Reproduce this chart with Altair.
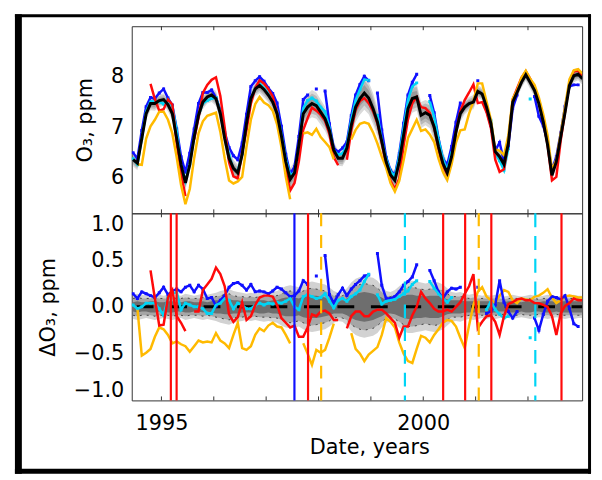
import altair as alt
import pandas as pd

# ---------------- data ----------------
N = 104
# monthly time axis, decimal years, starting mid-June 1994
dates = [round(1994 + (5 + i + 0.5) / 12, 4) for i in range(N)]

black = [6.36, 6.29, 6.78, 7.27, 7.47, 7.47, 7.53, 7.55, 7.45, 7.27,
         6.78, 6.26, 5.90, 6.26, 6.81, 7.24, 7.50, 7.60, 7.64, 7.57,
         7.27, 6.78, 6.39, 6.19, 6.10, 6.46, 7.08, 7.57, 7.76, 7.83,
         7.75, 7.64, 7.50, 7.27, 6.83, 6.32, 5.97, 6.10, 6.65, 7.27,
         7.40, 7.47, 7.43, 7.30, 7.17, 6.94, 6.55, 6.39, 6.39, 6.59,
         7.04, 7.40, 7.57, 7.68, 7.58, 7.37, 7.11, 6.72, 6.32, 6.06,
         5.95, 6.32, 6.85, 7.37, 7.57, 7.60, 7.24, 7.29, 7.24, 7.01,
         6.62, 6.29, 6.10, 6.42, 6.91, 7.27, 7.40, 7.47, 7.50, 7.71,
         7.66, 7.40, 7.08, 6.52, 6.42, 6.27, 6.68, 7.50, 7.69, 7.89,
         8.04, 7.89, 7.73, 7.47, 7.11, 6.65, 6.05, 6.32, 6.81, 7.30,
         7.83, 8.02, 8.05, 7.96]

d_blue = [0.14, 0.09, 0.16, 0.14, 0.12, 0.10, 0.15, 0.21, 0.13, 0.17,
          0.19, 0.16, 0.21, 0.23, 0.16, 0.23, 0.19, 0.09, 0.10, 0.01,
          0.07, 0.12, 0.21, 0.25, 0.26, 0.23, 0.18, 0.24, 0.16, 0.17,
          0.16, 0.14, 0.17, 0.21, 0.19, 0.15, 0.11, 0.12, 0.17, 0.28,
          0.24, None, 0.33, None, 0.55, 0.13, 0.04, 0.13, 0.20, 0.12,
          0.19, 0.24, 0.28, 0.33, 0.34, None, 0.57, 0.23, 0.09, 0.09,
          0.11, 0.16, 0.23, 0.27, 0.32, 0.45, None, None, 0.39, 0.28,
          0.16, 0.09, 0.16, 0.20, 0.19, 0.21, None, None, None, 0.21,
          None, -0.07, -0.05, 0.02, 0.28, 0.05, -0.05, -0.12, -0.05, None,
          None, None, -0.12, -0.25, -0.08, 0.06, 0.11, 0.10, 0.08, 0.12,
          -0.02, -0.18, -0.21, None]

d_cyan = [0.02, -0.02, 0.00, 0.04, 0.04, 0.04, -0.02, -0.09, 0.10, 0.14,
          0.16, -0.03, 0.04, 0.02, 0.00, 0.00, -0.02, -0.07, -0.07, 0.02,
          0.04, 0.09, 0.07, -0.02, 0.04, 0.02, -0.02, -0.02, 0.02, 0.04,
          0.02, 0.04, 0.03, 0.05, 0.04, 0.06, 0.09, 0.00, -0.03, 0.11,
          0.13, 0.11, 0.09, 0.10, 0.14, 0.06, -0.01, 0.07, 0.09, 0.06,
          0.11, 0.14, 0.18, 0.27, 0.35, None, 0.13, 0.03, 0.06, 0.07,
          0.08, 0.11, 0.14, 0.17, 0.24, 0.28, None, None, 0.27, 0.20,
          0.14, 0.09, 0.05, 0.10, None, None, None, None, None, None,
          None, -0.03, 0.06, -0.03, -0.08, -0.12, -0.10, None, None, None,
          None, -0.33, None, None, None, None, None, None, None, None,
          None, None, None, None]

d_red = [None, None, None, None, 0.39, 0.09, -0.20, -0.19, 0.10, 0.18,
         -0.10, -0.17, -0.26, None, -0.05, -0.05, 0.18, 0.24, 0.30, 0.42,
         0.35, 0.22, -0.08, -0.16, -0.11, 0.05, -0.14, -0.10, 0.02, 0.10,
         0.12, 0.12, 0.11, 0.02, -0.12, -0.17, -0.22, -0.20, -0.32, -0.32,
         -0.22, -0.08, -0.10, -0.05, -0.04, -0.07, -0.14, -0.14, None, -0.23,
         -0.10, -0.05, -0.05, -0.10, -0.10, -0.05, -0.03, -0.03, -0.07, -0.12,
         -0.17, -0.33, -0.21, -0.21, -0.09, 0.00, 0.16, 0.09, 0.04, -0.02,
         -0.05, -0.05, -0.03, -0.05, 0.00, 0.05, 0.14, 0.22, 0.35, -0.23,
         -0.16, -0.10, -0.09, -0.16, -0.30, -0.10, 0.03, 0.05, 0.08, 0.09,
         0.07, 0.07, 0.04, 0.04, 0.02, 0.00, -0.10, -0.30, -0.07, 0.01,
         0.04, 0.09, 0.07, 0.07]

d_orange = [None, -0.02, -0.52, -0.49, -0.45, -0.32, -0.22, -0.24, -0.30, -0.39,
            -0.37, -0.40, -0.42, -0.48, -0.42, -0.36, -0.38, -0.37, -0.38, -0.28,
            -0.36, -0.39, -0.44, -0.30, -0.17, -0.44, -0.46, -0.42, -0.30, -0.23,
            -0.26, -0.20, -0.17, -0.21, -0.22, -0.30, -0.39, None, None, -0.39,
            -0.50, -0.62, -0.46, -0.49, -0.46, -0.33, -0.18, None, None, None,
            -0.28, -0.45, -0.50, -0.58, -0.51, -0.47, -0.43, -0.30, -0.12, -0.16,
            -0.22, -0.38, -0.50, -0.58, -0.60, -0.45, -0.31, -0.33, -0.38, -0.30,
            -0.24, -0.17, -0.14, -0.15, -0.21, -0.33, -0.44, -0.20, 0.02, 0.16,
            0.21, 0.11, 0.07, 0.04, 0.12, 0.18, 0.16, 0.07, 0.04, 0.09,
            0.08, 0.07, 0.11, 0.12, 0.15, 0.19, 0.10, 0.04, 0.07, 0.11,
            0.12, 0.11, 0.10, 0.10]

band_outer = [0.13, 0.14, 0.13, 0.12, 0.13, 0.14, 0.13, 0.12, 0.13, 0.14,
              0.13, 0.12, 0.14, 0.13, 0.12, 0.13, 0.14, 0.13, 0.14, 0.15,
              0.17, 0.18, 0.19, 0.17, 0.16, 0.15, 0.14, 0.15, 0.14, 0.15,
              0.16, 0.15, 0.16, 0.17, 0.20, 0.22, 0.23, 0.22, 0.21, 0.24,
              0.26, 0.27, 0.26, 0.25, 0.24, 0.21, 0.17, 0.15, 0.16, 0.20,
              0.26, 0.30, 0.32, 0.33, 0.32, 0.31, 0.28, 0.22, 0.17, 0.16,
              0.18, 0.22, 0.26, 0.28, 0.28, 0.27, 0.26, 0.25, 0.26, 0.27,
              0.26, 0.24, 0.20, 0.16, 0.15, 0.16, 0.14, 0.13, 0.14, 0.13,
              0.12, 0.13, 0.12, 0.13, 0.12, 0.11, 0.12, 0.13, 0.12, 0.11,
              0.12, 0.13, 0.12, 0.11, 0.12, 0.13, 0.12, 0.11, 0.12, 0.13,
              0.12, 0.13, 0.12, 0.12]
band_mid = [0.09, 0.10, 0.09, 0.09, 0.09, 0.10, 0.09, 0.09, 0.09, 0.10,
            0.09, 0.09, 0.10, 0.09, 0.09, 0.09, 0.10, 0.09, 0.10, 0.11,
            0.12, 0.13, 0.14, 0.12, 0.11, 0.11, 0.10, 0.11, 0.10, 0.11,
            0.11, 0.11, 0.12, 0.12, 0.14, 0.16, 0.17, 0.16, 0.15, 0.17,
            0.19, 0.20, 0.19, 0.18, 0.17, 0.15, 0.12, 0.11, 0.12, 0.14,
            0.19, 0.22, 0.24, 0.25, 0.24, 0.23, 0.20, 0.16, 0.12, 0.11,
            0.13, 0.16, 0.19, 0.21, 0.21, 0.20, 0.19, 0.18, 0.19, 0.20,
            0.19, 0.17, 0.14, 0.11, 0.11, 0.11, 0.10, 0.09, 0.10, 0.09,
            0.09, 0.09, 0.09, 0.09, 0.09, 0.08, 0.09, 0.09, 0.09, 0.08,
            0.09, 0.09, 0.09, 0.08, 0.09, 0.09, 0.09, 0.08, 0.09, 0.09,
            0.09, 0.09, 0.09, 0.09]
band_inner = [0.05, 0.06, 0.05, 0.05, 0.06, 0.06, 0.05, 0.05, 0.06, 0.06,
              0.05, 0.05, 0.06, 0.06, 0.05, 0.05, 0.06, 0.05, 0.06, 0.07,
              0.07, 0.08, 0.08, 0.07, 0.07, 0.06, 0.06, 0.06, 0.06, 0.07,
              0.07, 0.06, 0.07, 0.07, 0.09, 0.10, 0.10, 0.10, 0.09, 0.11,
              0.12, 0.12, 0.12, 0.11, 0.10, 0.09, 0.07, 0.07, 0.07, 0.09,
              0.12, 0.14, 0.15, 0.16, 0.15, 0.14, 0.12, 0.10, 0.07, 0.07,
              0.08, 0.10, 0.12, 0.13, 0.13, 0.12, 0.12, 0.11, 0.12, 0.12,
              0.12, 0.10, 0.08, 0.07, 0.07, 0.07, 0.06, 0.06, 0.06, 0.06,
              0.06, 0.06, 0.06, 0.06, 0.05, 0.05, 0.06, 0.06, 0.06, 0.05,
              0.06, 0.06, 0.05, 0.05, 0.06, 0.06, 0.06, 0.05, 0.06, 0.06,
              0.06, 0.06, 0.06, 0.06]

red_events = [1995.18, 1995.29, 1997.80, 2000.38, 2000.80, 2001.30, 2002.64]
blue_events = [1997.54]
orange_events = [1998.05, 2001.06]
cyan_events = [1999.65, 2002.14]
year_ticks = [1995, 1996, 1997, 1998, 1999, 2000, 2001, 2002]

# ---------------- styling ----------------
C_BLUE, C_CYAN, C_RED, C_ORANGE = "#1010ff", "#00d4f5", "#ff0a0a", "#ffba00"
FONT = "DejaVu Sans"
W, H = 455, 189
X_DOM = [1994.433, 2003.034]

xs = alt.Scale(domain=X_DOM, nice=False, zero=False)
ys_top = alt.Scale(domain=[5.3, 9.0], nice=False, zero=False)
ys_bot = alt.Scale(domain=[-1.0, 1.0], nice=False, zero=False)

xax_bot = alt.Axis(values=[1995, 2000], format="d", title="Date, years", ticks=False,
                   domain=False, grid=False, labelPadding=12, titlePadding=4,
                   titleX=240, titleAlign="center", labelFlush=False)
yax_top = alt.Axis(values=[6, 7, 8], format="d", title="O₃, ppm", ticks=False,
                   domain=False, grid=False, labelPadding=8, titlePadding=15)
yax_bot = alt.Axis(values=[-1.0, -0.5, 0.0, 0.5, 1.0], format=".1f", title="ΔO₃, ppm",
                   ticks=False, domain=False, grid=False, labelPadding=8,
                   titlePadding=15, labelFlush=True)

# ---------------- tables ----------------
bands = pd.DataFrame({"t": dates, "b": black, "o": band_outer, "m": band_mid, "n": band_inner})
for k in ["o", "m", "n"]:
    bands["tlo_" + k] = bands["b"] - bands[k]
    bands["thi_" + k] = bands["b"] + bands[k]
    bands["blo_" + k] = -bands[k]
    bands["bhi_" + k] = bands[k]


def series_df(delta):
    v = [None if d is None else round(b + d, 3) for b, d in zip(black, delta)]
    return pd.DataFrame({"t": dates, "v": v, "d": delta}).astype({"v": float, "d": float})


s_blue, s_cyan, s_red, s_orange = (series_df(d) for d in (d_blue, d_cyan, d_red, d_orange))
s_black = pd.DataFrame({"t": dates, "v": black})
zero_df = pd.DataFrame({"t": X_DOM, "d": [0.0, 0.0]})
ticks_df = pd.DataFrame({"t": year_ticks})
dummy = pd.DataFrame({"k": [0]})


def ev(lst):
    return pd.DataFrame({"t": lst})


# ---------------- top panel ----------------
def xt():
    return alt.X("t:Q", scale=xs, axis=None)


def yt(f):
    return alt.Y(f + ":Q", scale=ys_top, axis=yax_top)


top_layers = []
for k, col in [("o", "#dadada"), ("m", "#b8b8b8"), ("n", "#9a9a9a")]:
    top_layers.append(alt.Chart(bands).mark_area(color=col, opacity=1, clip=True).encode(
        x=xt(), y=yt("tlo_" + k), y2=alt.Y2("thi_" + k)))
for df, col in [(s_blue, C_BLUE), (s_cyan, C_CYAN)]:
    top_layers.append(alt.Chart(df).mark_square(color=col, size=9, opacity=1, clip=True).encode(
        x=xt(), y=yt("v")))
for df, col in [(s_blue, C_BLUE), (s_cyan, C_CYAN), (s_red, C_RED), (s_orange, C_ORANGE)]:
    top_layers.append(alt.Chart(df).mark_line(color=col, strokeWidth=2.5, clip=True).encode(
        x=xt(), y=yt("v")))
top_layers.append(alt.Chart(s_black).mark_line(color="black", strokeWidth=3, clip=True).encode(
    x=xt(), y=yt("v")))
for y0, y1 in [(0, 4), (H - 4, H)]:
    top_layers.append(alt.Chart(ticks_df).mark_rule(color="#333", strokeWidth=1).encode(
        x=xt(), y=alt.value(y0), y2=alt.value(y1)))
# outer black frame of the figure (kept inside the 586x464 visible page area)
top_layers += [
    alt.Chart(dummy).mark_rule(color="black", strokeWidth=3).encode(
        x=alt.value(-118), x2=alt.value(464), y=alt.value(-10.5)),
    alt.Chart(dummy).mark_rule(color="black", strokeWidth=7).encode(
        x=alt.value(-114.5), y=alt.value(-12), y2=alt.value(452)),
    alt.Chart(dummy).mark_rule(color="black", strokeWidth=3).encode(
        x=alt.value(462.5), y=alt.value(-12), y2=alt.value(452)),
    alt.Chart(dummy).mark_rule(color="black", strokeWidth=5).encode(
        x=alt.value(-118), x2=alt.value(464), y=alt.value(449.5)),
]
top = alt.layer(*top_layers).properties(width=W, height=H)


# ---------------- bottom panel ----------------
def xb():
    return alt.X("t:Q", scale=xs, axis=xax_bot)


def yb(f):
    return alt.Y(f + ":Q", scale=ys_bot, axis=yax_bot)


bot_layers = []
for k, col in [("o", "#d2d2d2"), ("m", "#a6a6a6"), ("n", "#6e6e6e")]:
    bot_layers.append(alt.Chart(bands).mark_area(color=col, opacity=1, clip=True).encode(
        x=xb(), y=yb("blo_" + k), y2=alt.Y2("bhi_" + k)))
for f in ["blo_m", "bhi_m"]:
    bot_layers.append(alt.Chart(bands).mark_line(color="#222", strokeWidth=0.8,
                                                 strokeDash=[2, 5], clip=True).encode(
        x=xb(), y=yb(f)))
bot_layers.append(alt.Chart(zero_df).mark_line(color="black", strokeWidth=3,
                                               strokeDash=[17, 16.8], strokeDashOffset=-5).encode(
    x=xb(), y=yb("d")))
for df, col in [(s_blue, C_BLUE), (s_cyan, C_CYAN)]:
    bot_layers.append(alt.Chart(df).mark_square(color=col, size=9, opacity=1, clip=True).encode(
        x=xb(), y=yb("d")))
for df, col in [(s_orange, C_ORANGE), (s_blue, C_BLUE), (s_cyan, C_CYAN), (s_red, C_RED)]:
    bot_layers.append(alt.Chart(df).mark_line(color=col, strokeWidth=2.5, clip=True).encode(
        x=xb(), y=yb("d")))
for lst, col, dash in [(red_events, C_RED, None), (blue_events, C_BLUE, None),
                       (orange_events, C_ORANGE, [13, 9]), (cyan_events, C_CYAN, [14, 9])]:
    kw = dict(color=col, strokeWidth=2.2)
    if dash:
        kw["strokeDash"] = dash
    bot_layers.append(alt.Chart(ev(lst)).mark_rule(**kw).encode(
        x=xb(), y=alt.value(0), y2=alt.value(H)))
for y0, y1 in [(0, 4), (H - 4, H)]:
    bot_layers.append(alt.Chart(ticks_df).mark_rule(color="#333", strokeWidth=1).encode(
        x=xb(), y=alt.value(y0), y2=alt.value(y1)))
bottom = alt.layer(*bot_layers).properties(width=W, height=H)

chart = alt.vconcat(top, bottom, spacing=0, bounds="flush").resolve_scale(
    x="independent", y="independent"
).properties(
    padding={"left": 4, "top": 0, "right": 0, "bottom": 0},
    background="white",
).configure_axis(
    labelFont=FONT, titleFont=FONT, labelFontSize=21, titleFontSize=21,
    labelColor="#000", titleColor="#000", titleFontWeight="normal",
).configure_view(stroke="#333", strokeWidth=1)

chart.save("out.html", embed_options={"renderer": "svg", "actions": False})
